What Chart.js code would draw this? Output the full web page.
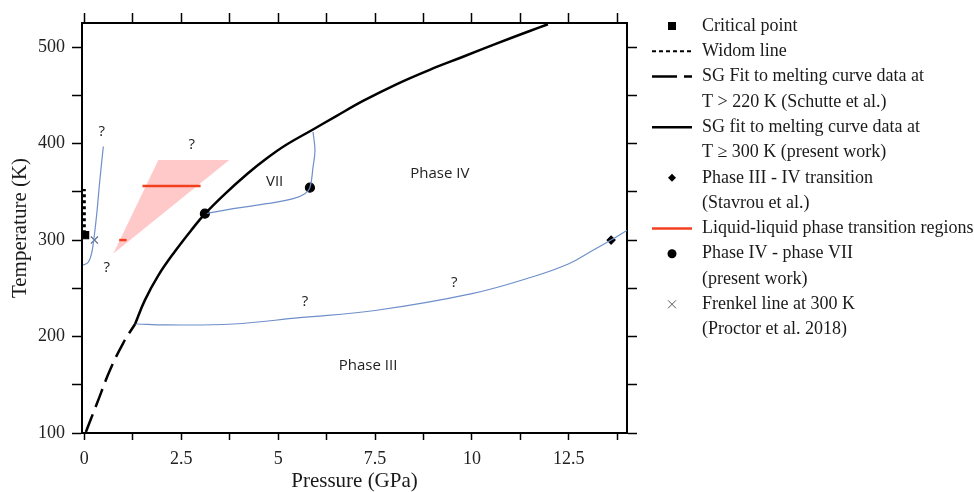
<!DOCTYPE html>
<html>
<head>
<meta charset="utf-8">
<script src="https://cdn.jsdelivr.net/npm/chart.js@4.4.1/dist/chart.umd.min.js"></script>
<style>
  html, body { margin: 0; padding: 0; background: #fff; }
  #wrap { width: 974px; height: 492px; }
</style>
</head>
<body>
<div id="wrap"><canvas id="phaseplot" width="974" height="492"></canvas></div>
<script>
// axis ranges and ticks
const pRange = [-0.06, 14];
const tRange = [100, 525];
const pTicks = [0, 1.25, 2.5, 3.75, 5, 6.25, 7.5, 8.75, 10, 11.25, 12.5, 13.75];
const pLabels = ['0', '', '2.5', '', '5', '', '7.5', '', '10', '', '12.5', ''];
const tTicks = [100, 150, 200, 250, 300, 350, 400, 450, 500];
const tLabels = ['100', '', '200', '', '300', '', '400', '', '500'];

// curves, [P (GPa), T (K)]
const meltSchutte = [[0.04, 101], [0.32, 130], [0.66, 165], [1.0, 193], [1.31, 213]];
const meltPresent = [[1.31, 213], [1.56, 237.5], [1.91, 263.4], [2.34, 288.4], [2.77, 310.8], [3.11, 327.1],
  [3.63, 347.9], [4.2, 368.5], [4.7, 384.5], [5.2, 398.5], [5.9, 414.6], [6.5, 428.5], [7.19, 444.2],
  [8.05, 461.5], [8.91, 476.5], [9.77, 490], [10.63, 503.6], [11.49, 516.7], [11.96, 523.7]];
const widomLine = [[0.0, 307], [0.0, 353]];
const criticalPoint = [[0.02, 305]];
const frenkelPoint = [[0.26, 300]];
const fluidBoundary = [[-0.03, 274], [0.1, 277], [0.18, 285], [0.23, 296], [0.32, 327], [0.4, 362], [0.49, 397]];
const llRegion = [[0.75, 286], [1.91, 383], [3.74, 383], [0.75, 286]];
const llLow = [[0.9, 300], [1.09, 300]];
const llHigh = [[1.5, 356], [3.0, 356]];
const ivViiBoundary = [[3.11, 327.3], [3.84, 332.5], [4.7, 337.7], [5.39, 342.9], [5.69, 348], [5.82, 354.3],
  [5.9, 375.6], [5.95, 393], [5.9, 412]];
const ivViiPoints = [[3.11, 327.3], [5.82, 354.3]];
const iiiIvBoundary = [[1.35, 213], [2.1, 212], [3.84, 213], [5.56, 219.6], [7.5, 227], [10, 244.5],
  [11.57, 262], [12.5, 275.5], [13.1, 289], [13.59, 300], [14, 310]];
const iiiIvPoint = [[13.59, 300]];

// text in the plot
const regionLabels = [
  { text: '?', p: 0.45, t: 412 },
  { text: '?', p: 2.77, t: 399 },
  { text: 'VII', p: 4.91, t: 360 },
  { text: 'Phase IV', p: 9.17, t: 369 },
  { text: '?', p: 0.58, t: 271 },
  { text: '?', p: 5.69, t: 236.5 },
  { text: '?', p: 9.54, t: 256 },
  { text: 'Phase III', p: 7.32, t: 170 }
];

const legendRows = [
  { key: 'square', lines: ['Critical point'] },
  { key: 'dotted', lines: ['Widom line'] },
  { key: 'dashed', lines: ['SG Fit to melting curve data at', 'T > 220 K (Schutte et al.)'] },
  { key: 'solid', lines: ['SG fit to melting curve data at', 'T \u2265 300 K (present work)'] },
  { key: 'diamond', lines: ['Phase III - IV transition', '(Stavrou et al.)'] },
  { key: 'red', lines: ['Liquid-liquid phase transition regions'] },
  { key: 'dot', lines: ['Phase IV - phase VII', '(present work)'] },
  { key: 'cross', lines: ['Frenkel line at 300 K', '(Proctor et al. 2018)'] }
];

const serif = '"Liberation Serif", "Times New Roman", serif';
const blue = '#6f8fca';
const red = '#f2401f';

function pts(list) {
  return list.map(([x, y]) => ({ x, y }));
}

function line(label, list, opts) {
  return Object.assign({
    label, data: pts(list), showLine: true, pointRadius: 0, fill: false,
    borderColor: '#000', borderWidth: 2.5, tension: 0
  }, opts);
}

function marker(label, list, style, radius, color) {
  return {
    label, data: pts(list), showLine: false, pointStyle: style, pointRadius: radius,
    backgroundColor: color, borderColor: color, borderWidth: 1.2
  };
}

const annotate = {
  id: 'annotate',
  afterDatasetsDraw(chart) {
    const { ctx, scales: { x, y } } = chart;
    ctx.save();
    ctx.font = '15px "Open Sans", sans-serif';
    ctx.fillStyle = '#222';
    ctx.textAlign = 'center';
    ctx.textBaseline = 'middle';
    regionLabels.forEach(l => ctx.fillText(l.text, x.getPixelForValue(l.p), y.getPixelForValue(l.t)));
    ctx.restore();
  }
};

function drawKey(ctx, key, cy) {
  const x0 = 652, x1 = 692, xm = 672;
  ctx.save();
  ctx.strokeStyle = '#000';
  ctx.fillStyle = '#000';
  ctx.lineWidth = 2.5;
  if (key === 'square') {
    ctx.fillRect(xm - 4, cy - 4, 8, 8);
  } else if (key === 'dotted') {
    ctx.lineWidth = 2;
    ctx.setLineDash([4, 3]);
    ctx.beginPath(); ctx.moveTo(x0, cy); ctx.lineTo(x1, cy); ctx.stroke();
  } else if (key === 'dashed') {
    ctx.beginPath(); ctx.moveTo(x0, cy); ctx.lineTo(x0 + 25, cy);
    ctx.moveTo(x0 + 32, cy); ctx.lineTo(x1, cy); ctx.stroke();
  } else if (key === 'solid' || key === 'red') {
    if (key === 'red') ctx.strokeStyle = red;
    ctx.beginPath(); ctx.moveTo(x0, cy); ctx.lineTo(x1, cy); ctx.stroke();
  } else if (key === 'diamond') {
    ctx.beginPath(); ctx.moveTo(xm, cy - 4); ctx.lineTo(xm + 4, cy); ctx.lineTo(xm, cy + 4);
    ctx.lineTo(xm - 4, cy); ctx.closePath(); ctx.fill();
  } else if (key === 'dot') {
    ctx.beginPath(); ctx.arc(xm, cy, 4.5, 0, Math.PI * 2); ctx.fill();
  } else if (key === 'cross') {
    ctx.strokeStyle = '#555';
    ctx.lineWidth = 1;
    ctx.beginPath(); ctx.moveTo(xm - 4, cy - 4); ctx.lineTo(xm + 4, cy + 4);
    ctx.moveTo(xm + 4, cy - 4); ctx.lineTo(xm - 4, cy + 4); ctx.stroke();
  }
  ctx.restore();
}

const sideLegend = {
  id: 'sideLegend',
  afterDraw(chart) {
    const ctx = chart.ctx;
    let yy = 26;
    ctx.save();
    ctx.font = '18px ' + serif;
    ctx.fillStyle = '#1a1a1a';
    ctx.textBaseline = 'middle';
    ctx.textAlign = 'left';
    legendRows.forEach(row => {
      drawKey(ctx, row.key, yy);
      row.lines.forEach(txt => {
        ctx.fillText(txt, 702, yy);
        yy += 25.3;
      });
    });
    ctx.restore();
  }
};

const setTicks = values => scale => { scale.ticks = values.map(v => ({ value: v })); };
const tickGrid = len => ({ drawOnChartArea: false, color: '#000', tickLength: len, tickWidth: 1.5, tickColor: '#000' });
const axisBorder = { display: true, color: '#000', width: 2 };

const config = {
  type: 'scatter',
  data: {
    datasets: [
      line('LL region', llRegion, { fill: 'shape', backgroundColor: 'rgba(255,120,120,0.4)', borderWidth: 0, borderColor: 'rgba(0,0,0,0)', order: 10 }),
      line('LL low', llLow, { borderColor: red }),
      line('LL high', llHigh, { borderColor: red }),
      line('Melting (Schutte)', meltSchutte, { borderDash: [19, 8], tension: 0.4 }),
      line('Melting (present)', meltPresent, { tension: 0.4 }),
      line('Widom line', widomLine, { borderDash: [3, 3], borderWidth: 3 }),
      line('Fluid boundary', fluidBoundary, { borderColor: blue, borderWidth: 1.2, tension: 0.4 }),
      line('IV-VII', ivViiBoundary, { borderColor: blue, borderWidth: 1.2, tension: 0.4 }),
      line('III-IV', iiiIvBoundary, { borderColor: blue, borderWidth: 1.2, tension: 0.4 }),
      marker('Critical point', criticalPoint, 'rect', 5, '#000'),
      marker('Phase IV - VII', ivViiPoints, 'circle', 4.5, '#000'),
      marker('Phase III - IV', iiiIvPoint, 'rectRot', 4, '#000'),
      marker('Frenkel line', frenkelPoint, 'crossRot', 5, '#5a6a88')
    ]
  },
  options: {
    responsive: false,
    animation: false,
    devicePixelRatio: 1,
    layout: { padding: { left: 0, top: 13, right: 337, bottom: 0 } },
    plugins: { legend: { display: false }, tooltip: { enabled: false } },
    scales: {
      x: {
        type: 'linear', position: 'bottom', min: pRange[0], max: pRange[1],
        afterBuildTicks: setTicks(pTicks),
        afterFit: s => { s.height = 59; },
        border: axisBorder,
        grid: tickGrid(7),
        ticks: {
          autoSkip: false, maxRotation: 0, padding: 8, color: '#222',
          font: { family: serif, size: 18 },
          callback: v => pLabels[pTicks.indexOf(v)]
        },
        title: { display: true, text: 'Pressure (GPa)', color: '#1a1a1a', font: { family: serif, size: 21, lineHeight: 1 }, padding: { top: 0, bottom: 0 } }
      },
      y: {
        type: 'linear', position: 'left', min: tRange[0], max: tRange[1],
        afterBuildTicks: setTicks(tTicks),
        afterFit: s => { s.width = 82; },
        border: axisBorder,
        grid: tickGrid(10),
        ticks: {
          autoSkip: false, padding: 7, color: '#222',
          font: { family: serif, size: 18 },
          callback: v => tLabels[tTicks.indexOf(v)]
        },
        title: { display: true, text: 'Temperature (K)', color: '#1a1a1a', font: { family: serif, size: 21, lineHeight: 1 }, padding: { top: 10, bottom: 0 } }
      },
      x2: {
        type: 'linear', axis: 'x', position: 'top', min: pRange[0], max: pRange[1],
        afterBuildTicks: setTicks(pTicks),
        afterFit: s => { s.height = 10; },
        border: axisBorder,
        grid: tickGrid(10),
        ticks: { display: false }
      },
      y2: {
        type: 'linear', axis: 'y', position: 'right', min: tRange[0], max: tRange[1],
        afterBuildTicks: setTicks(tTicks),
        afterFit: s => { s.width = 10; },
        border: axisBorder,
        grid: tickGrid(10),
        ticks: { display: false }
      }
    }
  },
  plugins: [annotate, sideLegend]
};

new Chart(document.getElementById('phaseplot'), config);
</script>
</body>
</html>
